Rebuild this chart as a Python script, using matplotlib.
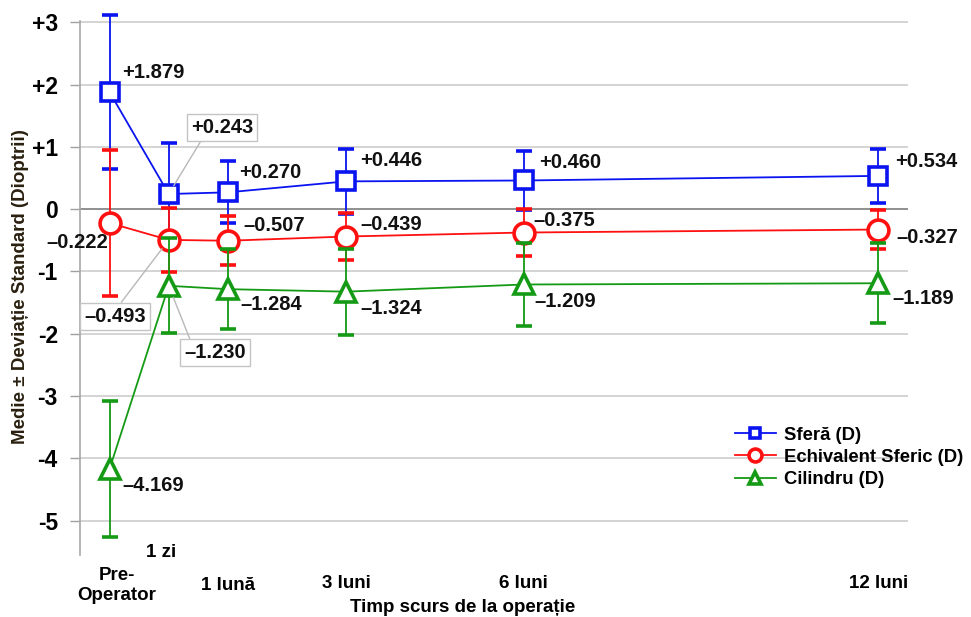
import matplotlib
matplotlib.use("Agg")
import matplotlib.pyplot as plt
import matplotlib.transforms as mtransforms

plt.rcParams['font.family'] = ['Liberation Sans', 'DejaVu Sans']
plt.rcParams['font.weight'] = 'bold'

# Timp in luni (pre-operator = -1, 1 zi ~ 0)
luni = [-1, 0, 1, 3, 6, 12]
etichete_x = ['Pre-\nOperator', '1 zi', '1 lună', '3 luni', '6 luni', '12 luni']

sfera = [1.879, 0.243, 0.270, 0.446, 0.460, 0.534]
sfera_sd = [1.23, 0.82, 0.50, 0.52, 0.48, 0.43]
echiv = [-0.222, -0.493, -0.507, -0.439, -0.375, -0.327]
echiv_sd = [1.17, 0.51, 0.39, 0.38, 0.38, 0.32]
cil = [-4.169, -1.230, -1.284, -1.324, -1.209, -1.189]
cil_sd = [1.09, 0.76, 0.64, 0.69, 0.66, 0.64]

y_ticks = [3, 2, 1, 0, -1, -2, -3, -4, -5]
y_etichete = ['+3', '+2', '+1', '0', '-1', '-2', '-3', '-4', '-5']

ALBASTRU = '#0a14f0'
ROSU = '#ff1010'
VERDE = '#159a15'
FS = 14.5


def fmt(v):
    s = '{:+.3f}'.format(v)
    return s.replace('-', '–')


fig = plt.figure(figsize=(9.71, 6.17), dpi=100)
ax = fig.add_axes([0.0824, 0.1005, 0.8527, 0.8655])

# grila orizontala
for t in y_ticks:
    ax.axhline(t, color='#8f8f8f' if t == 0 else '#d4d4d4', lw=1.4, zorder=0)

serii = [
    (sfera, sfera_sd, ALBASTRU, 's', 12.5, 'Sferă (D)'),
    (echiv, echiv_sd, ROSU, 'o', 15, 'Echivalent Sferic (D)'),
    (cil, cil_sd, VERDE, '^', 15, 'Cilindru (D)'),
]
handles = []
nume_serii = []
for i, (vals, sd, col, mk, ms, nume) in enumerate(serii):
    eb = ax.errorbar(luni, vals, yerr=sd, color=col, marker=mk, ms=ms,
                     mfc='white', mec=col, mew=2.6, lw=1.3, elinewidth=1.3,
                     capsize=6, capthick=1.0, zorder=3 + i)
    # barele de eroare pot iesi putin peste +3
    for art in [eb[0], *eb[1], *eb[2]]:
        art.set_clip_on(False)
    handles.append(eb[0])
    nume_serii.append(nume)

# etichete valori (offset in puncte)
off_sfera = [(9, 14), None, (8, 14), (10, 15), (11, 13), (12, 10)]
off_echiv = [None, None, (11, 11), (10, 9), (7, 9), (13, -6)]
off_cil = [(9, -12), None, (9, -11), (10, -12), (8, -12), (10, -11)]

for vals, offs in [(sfera, off_sfera), (echiv, off_echiv), (cil, off_cil)]:
    for x, v, o in zip(luni, vals, offs):
        if o is None:
            continue
        ax.annotate(fmt(v), (x, v), xytext=o, textcoords='offset points',
                    ha='left', va='center', fontsize=FS, fontweight='bold',
                    color='#111111', zorder=10, annotation_clip=False)

ax.annotate(fmt(echiv[0]), (luni[0], echiv[0]), xytext=(-1, -14),
            textcoords='offset points', ha='right', va='center', fontsize=FS,
            fontweight='bold', color='#111111', zorder=10, annotation_clip=False)

# etichete in casute cu linie de legatura
casuta = dict(boxstyle='square,pad=0.2', fc='white', ec='#c4c4c4', lw=1)
ax.annotate(fmt(sfera[1]), (luni[1], sfera[1]), xytext=(16, 48),
            textcoords='offset points', ha='left', va='center', fontsize=FS,
            fontweight='bold', color='#111111', bbox=casuta, zorder=10,
            arrowprops=dict(arrowstyle='-', color='#b8b8b8', lw=1,
                            relpos=(0.2, 0), shrinkA=0, shrinkB=7))
ax.annotate(fmt(echiv[1]), (luni[1], echiv[1]), xytext=(-61, -55),
            textcoords='offset points', ha='left', va='center', fontsize=FS,
            fontweight='bold', color='#111111', bbox=casuta, zorder=10,
            annotation_clip=False,
            arrowprops=dict(arrowstyle='-', color='#b8b8b8', lw=1,
                            relpos=(0.55, 1), shrinkA=0, shrinkB=8))
ax.annotate(fmt(cil[1]), (luni[1], cil[1]), xytext=(11, -48),
            textcoords='offset points', ha='left', va='center', fontsize=FS,
            fontweight='bold', color='#111111', bbox=casuta, zorder=10,
            arrowprops=dict(arrowstyle='-', color='#b8b8b8', lw=1,
                            relpos=(0.12, 1), shrinkA=0, shrinkB=9))

ax.set_xlim(-1.5, 12.5)
ax.set_ylim(-5.55, 3.02)
ax.set_yticks(y_ticks)
ax.set_yticklabels(y_etichete, fontsize=16.5, fontweight='bold')
ax.tick_params(axis='y', length=7, width=1, color='#a0a0a0', pad=9)
ax.set_xticks([])
for s in ['top', 'right', 'bottom']:
    ax.spines[s].set_visible(False)
ax.spines['left'].set_color('#a8a8a8')
ax.spines['left'].set_linewidth(1.2)

# etichete axa x, pe doua randuri
trans = mtransforms.blended_transform_factory(ax.transData, fig.transFigure)
y_fig = [0.051, 0.104, 0.051, 0.054, 0.054, 0.054]
dx = [0.12, -0.12, 0, 0, 0, 0]
for x, lab, yy, d in zip(luni, etichete_x, y_fig, dx):
    ax.text(x + d, yy, lab, transform=trans, ha='center', va='center',
            fontsize=13.5, fontweight='bold', linespacing=1.25)

fig.text(0.476, 0.016, 'Timp scurs de la operație', ha='center', va='center',
         fontsize=13.5, fontweight='bold')
fig.text(0.021, 0.535, 'Medie ± Deviație Standard (Dioptrii)', rotation=90,
         ha='center', va='center', fontsize=13.5, fontweight='bold',
         color='#2a2010')

ax.legend(handles, nume_serii, loc='upper left', bbox_to_anchor=(0.782, 0.254),
          frameon=False, fontsize=13.3, markerscale=0.62, handlelength=2.2,
          handletextpad=0.45, labelspacing=0.28, borderaxespad=0)

fig.savefig('out.png', dpi=100)
